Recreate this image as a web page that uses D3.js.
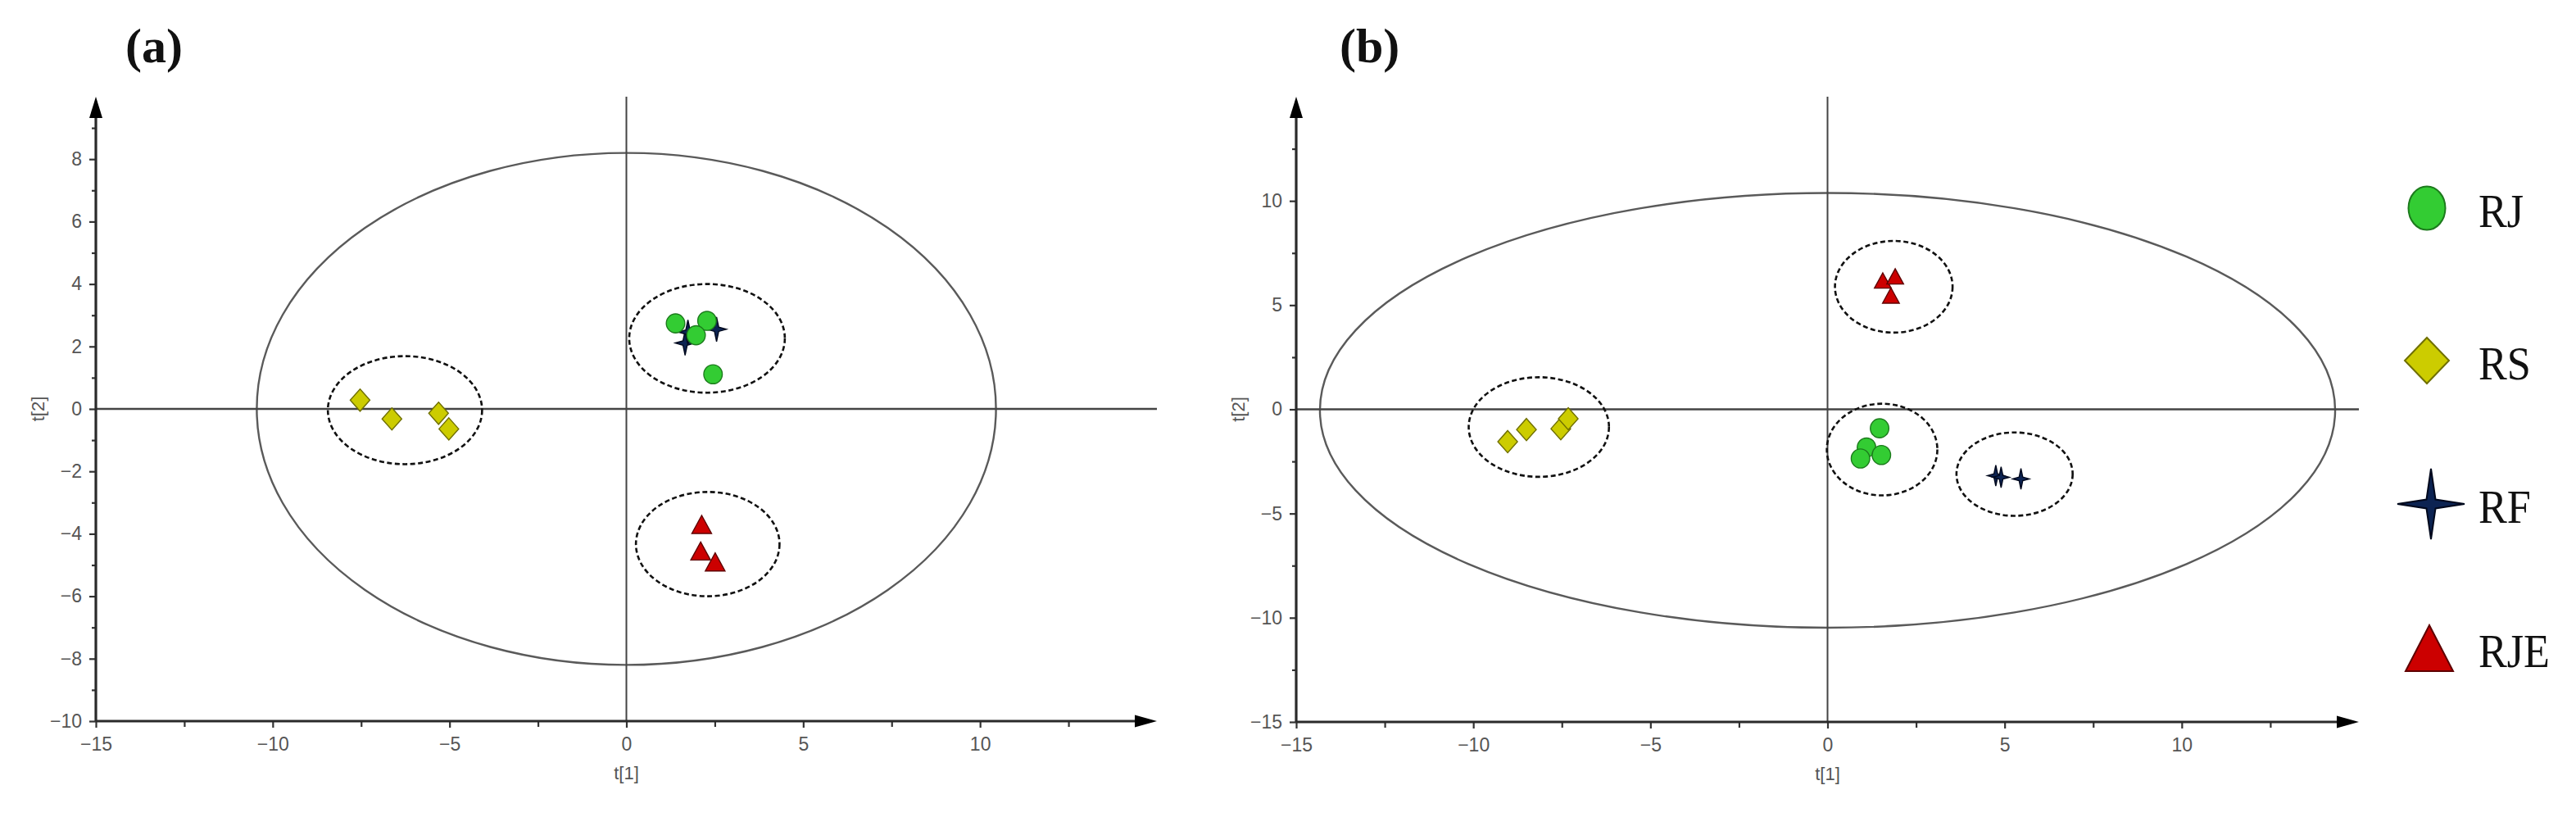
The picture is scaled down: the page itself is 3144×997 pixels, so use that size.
<!DOCTYPE html>
<html><head><meta charset="utf-8">
<script src="https://cdn.jsdelivr.net/npm/d3@7"></script>
<style>body{margin:0;background:#fff} svg{display:block}</style>
</head><body>
<svg id="c" width="3144" height="997"></svg>
<script>
// ---------------- data ----------------
const groups = ["RJ", "RS", "RF", "RJE"];

// panel (a) scores
const aRJ_t1 = [1.39, 2.28, 1.97, 2.45],  aRJ_t2 = [2.74, 2.82, 2.36, 1.11];
const aRS_t1 = [-7.53, -6.63, -5.31, -5.02], aRS_t2 = [0.28, -0.32, -0.14, -0.64];
const aRF_t1 = [1.66, 1.74, 2.55], aRF_t2 = [2.11, 2.46, 2.55];
const aRJE_t1 = [2.13, 2.10, 2.51], aRJE_t2 = [-3.70, -4.55, -4.90];

// panel (b) scores
const bRJ_t1 = [1.47, 1.10, 0.93, 1.52], bRJ_t2 = [-0.91, -1.83, -2.36, -2.19];
const bRS_t1 = [-9.03, -8.50, -7.53, -7.32], bRS_t2 = [-1.55, -0.97, -0.93, -0.45];
const bRF_t1 = [4.75, 4.90, 5.46], bRF_t2 = [-3.18, -3.26, -3.34];
const bRJE_t1 = [1.56, 1.91, 1.79], bRJE_t2 = [6.18, 6.38, 5.46];

// confidence ellipses: [cx, cy, rx, ry] in score units
const aHotelling = [0, 0, 10.45, 8.2];
const aClusters = [[-6.26, -0.04, 2.18, 1.73], [2.28, 2.26, 2.2, 1.74], [2.3, -4.33, 2.03, 1.67]];
const bHotelling = [0, -0.05, 14.33, 10.43];
const bClusters = [[-8.15, -0.85, 1.98, 2.39], [1.54, -1.93, 1.56, 2.2], [5.28, -3.11, 1.64, 2.0], [1.87, 5.88, 1.66, 2.2]];

// axes
const xDomain = [-15, 15];
const xMajor = [-15, -10, -5, 0, 5, 10];
const xMinor = [-12.5, -7.5, -2.5, 2.5, 7.5, 12.5];
const aYDomain = [-10, 10];
const aYMajor = [-10, -8, -6, -4, -2, 0, 2, 4, 6, 8];
const aYMinor = [-9, -7, -5, -3, -1, 1, 3, 5, 7, 9];
const bYDomain = [-15, 15];
const bYMajor = [-15, -10, -5, 0, 5, 10];
const bYMinor = [-12.5, -7.5, -2.5, 2.5, 7.5, 12.5];
const panelLabels = ["(a)", "(b)"];
const xTitle = "t[1]", yTitle = "t[2]";

// ---------------- styles ----------------
const style = {
  RJ:  {fill: "#33cc33", stroke: "#1c7a1c"},
  RS:  {fill: "#cccc00", stroke: "#6f6f00"},
  RF:  {fill: "#0c2352", stroke: "#00081c"},
  RJE: {fill: "#cc0000", stroke: "#5e0000"}
};

function starPath(w, h, i) {
  return `M0,${-h} L${i},${-i} L${w},0 L${i},${i} L0,${h} L${-i},${i} L${-w},0 L${-i},${-i}Z`;
}

function shapePath(g, s) {
  if (g === "RJ") {
    const rx = 11.3 * s, ry = 11.6 * s;
    return `M${-rx},0 A${rx},${ry} 0 1,0 ${rx},0 A${rx},${ry} 0 1,0 ${-rx},0Z`;
  }
  if (g === "RS") {
    const w = 12 * s, h = 13.5 * s;
    return `M0,${-h} L${w},0 L0,${h} L${-w},0Z`;
  }
  if (g === "RF") return starPath(12 * s, 15 * s, 2.6 * s);
  const b = 12 * s, h = 11 * s;
  return `M0,${-h} L${b},${h} L${-b},${h}Z`;
}

const svg = d3.select("#c");

function panel(cfg) {
  const x = d3.scaleLinear().domain(xDomain).range(cfg.xRange);
  const y = d3.scaleLinear().domain(cfg.yDomain).range(cfg.yRange);
  const g = svg.append("g");

  const H = cfg.hot;
  g.append("ellipse")
    .attr("cx", x(H[0])).attr("cy", y(H[1]))
    .attr("rx", x(H[2]) - x(0)).attr("ry", y(0) - y(H[3]))
    .attr("fill", "none").attr("stroke", "#5a5a5a").attr("stroke-width", 2.4);

  g.append("line").attr("x1", x(0)).attr("x2", x(0)).attr("y1", y.range()[1]).attr("y2", y.range()[0])
    .attr("stroke", "#444").attr("stroke-width", 2);
  g.append("line").attr("x1", x.range()[0]).attr("x2", x.range()[1]).attr("y1", y(0)).attr("y2", y(0))
    .attr("stroke", "#444").attr("stroke-width", 2.4);

  g.selectAll(".cl").data(cfg.clusters).enter().append("ellipse")
    .attr("cx", d => x(d[0])).attr("cy", d => y(d[1]))
    .attr("rx", d => x(d[2]) - x(0)).attr("ry", d => y(0) - y(d[3]))
    .attr("fill", "none").attr("stroke", "#111").attr("stroke-width", 2.6)
    .attr("stroke-dasharray", "6,3.5");

  const fontT = "Liberation Sans, Arial, sans-serif";
  const xAx = g.append("g").attr("transform", `translate(0,${y.range()[0]})`)
    .call(d3.axisBottom(x).tickValues(xMajor).tickSize(8).tickPadding(12).tickFormat(d3.format("d")));
  const xAxMin = g.append("g").attr("transform", `translate(0,${y.range()[0]})`)
    .call(d3.axisBottom(x).tickValues(xMinor).tickSize(7).tickFormat(""));
  const yAx = g.append("g").attr("transform", `translate(${x.range()[0]},0)`)
    .call(d3.axisLeft(y).tickValues(cfg.yMajor).tickSize(8).tickPadding(9).tickFormat(d3.format("d")));
  const yAxMin = g.append("g").attr("transform", `translate(${x.range()[0]},0)`)
    .call(d3.axisLeft(y).tickValues(cfg.yMinor).tickSize(5).tickFormat(""));
  [xAx, xAxMin, yAx, yAxMin].forEach(a => {
    a.select(".domain").remove();
    a.selectAll("line").attr("stroke", "#333").attr("stroke-width", 2.2);
    a.selectAll("text").attr("font-family", fontT).attr("font-size", 23).attr("fill", "#555");
  });

  const x0 = x.range()[0], x1 = x.range()[1], yb = y.range()[0], yt = y.range()[1];
  g.append("line").attr("x1", x0).attr("x2", x1 - 10).attr("y1", yb).attr("y2", yb)
    .attr("stroke", "#2a2a2a").attr("stroke-width", 3.2);
  g.append("line").attr("x1", x0).attr("x2", x0).attr("y1", yb).attr("y2", yt + 10)
    .attr("stroke", "#2a2a2a").attr("stroke-width", 3.2);
  g.append("path").attr("d", `M${x1},${yb} L${x1 - 27},${yb - 7.5} L${x1 - 27},${yb + 7.5}Z`).attr("fill", "#000");
  g.append("path").attr("d", `M${x0},${yt} L${x0 - 8},${yt + 26} L${x0 + 8},${yt + 26}Z`).attr("fill", "#000");

  g.append("text").attr("x", x(0)).attr("y", yb + 71).attr("text-anchor", "middle")
    .attr("font-family", fontT).attr("font-size", 22).attr("fill", "#555").text(xTitle);
  g.append("text").attr("transform", `translate(${cfg.yTitleX},${y(0)}) rotate(-90)`)
    .attr("text-anchor", "middle").attr("font-family", fontT).attr("font-size", 22).attr("fill", "#555").text(yTitle);

  g.append("text").attr("x", cfg.labelX).attr("y", 76)
    .attr("font-family", "Liberation Serif, Times New Roman, serif").attr("font-weight", "bold")
    .attr("font-size", 60).attr("fill", "#111").text(cfg.label);

  cfg.series.forEach(s => {
    const pts = s.t1.map((v, i) => ({t1: v, t2: s.t2[i]}));
    g.selectAll(null).data(pts).enter().append("path")
      .attr("d", shapePath(s.g, s.size || 1))
      .attr("transform", d => `translate(${x(d.t1)},${y(d.t2)})`)
      .attr("fill", style[s.g].fill).attr("stroke", style[s.g].stroke).attr("stroke-width", 1.4);
  });
}

panel({
  xRange: [117, 1412], yRange: [880, 118], yDomain: aYDomain,
  yMajor: aYMajor, yMinor: aYMinor, hot: aHotelling, clusters: aClusters,
  yTitleX: 54, labelX: 153, label: panelLabels[0],
  series: [
    {g: "RS", t1: aRS_t1, t2: aRS_t2},
    {g: "RJE", t1: aRJE_t1, t2: aRJE_t2},
    {g: "RF", t1: aRF_t1, t2: aRF_t2},
    {g: "RJ", t1: aRJ_t1, t2: aRJ_t2}
  ]
});

panel({
  xRange: [1582, 2879], yRange: [881, 118], yDomain: bYDomain,
  yMajor: bYMajor, yMinor: bYMinor, hot: bHotelling, clusters: bClusters,
  yTitleX: 1519, labelX: 1635, label: panelLabels[1],
  series: [
    {g: "RS", t1: bRS_t1, t2: bRS_t2},
    {g: "RJE", t1: bRJE_t1, t2: bRJE_t2, size: 0.85},
    {g: "RF", t1: bRF_t1, t2: bRF_t2, size: 0.85},
    {g: "RJ", t1: bRJ_t1, t2: bRJ_t2}
  ]
});

// ---------------- legend ----------------
const legendY = [254, 440, 615, 791];
const leg = svg.append("g");
groups.forEach((gname, i) => {
  let d;
  if (gname === "RJ") d = "M-22.5,0 A22.5,26.5 0 1,0 22.5,0 A22.5,26.5 0 1,0 -22.5,0Z";
  else if (gname === "RS") d = "M0,-28 L27,0 L0,28 L-27,0Z";
  else if (gname === "RF") d = starPath(41, 43, 5.5);
  else d = "M0,-28 L29,28 L-29,28Z";
  const xc = gname === "RF" ? 2967 : (gname === "RJE" ? 2965 : 2962);
  leg.append("path").attr("d", d).attr("transform", `translate(${xc},${legendY[i]})`)
    .attr("fill", style[gname].fill).attr("stroke", style[gname].stroke).attr("stroke-width", 2);
  leg.append("text").attr("transform", `translate(3025,${legendY[i] + 23}) scale(0.9,1)`)
    .attr("font-family", "Liberation Serif, Times New Roman, serif").attr("font-size", 58)
    .attr("fill", "#111").text(gname);
});
</script>
</body></html>
